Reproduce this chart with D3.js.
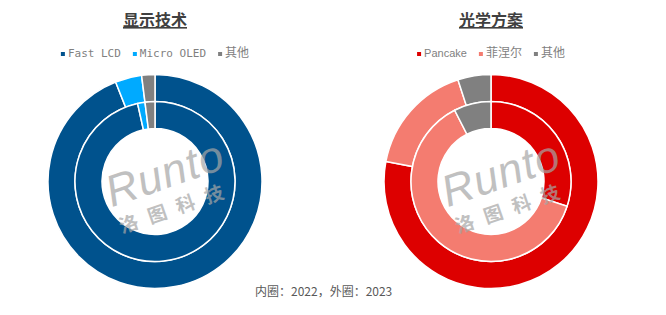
<!DOCTYPE html>
<html>
<head>
<meta charset="utf-8">
<script src="https://cdn.jsdelivr.net/npm/d3@7"></script>
<style>
  body { margin: 0; background: #fff; }
  text { font-family: "Noto Sans CJK SC", "Liberation Sans", sans-serif; }
</style>
</head>
<body>
<svg></svg>
<script>
var width = 666;
var height = 315;

// 显示技术
var displayCats = ["Fast LCD", "Micro OLED", "其他"];
var display2022 = [96.5, 1.5, 2];   // inner ring
var display2023 = [94, 4, 2];       // outer ring
var displayColors = ["#00528d", "#00aaff", "#808080"];

// 光学方案
var opticsCats = ["Pancake", "菲涅尔", "其他"];
var optics2022 = [30, 62.5, 7.5];
var optics2023 = [78, 17, 5];
var opticsColors = ["#dd0000", "#f47c70", "#808080"];

var svg = d3.select("svg")
    .attr("width", width)
    .attr("height", height);

var pie = d3.pie().sort(null).value(function(d) { return d; });

var rHole = 53, rMid = 80, rOut = 107;
var innerArc = d3.arc().innerRadius(rHole).outerRadius(rMid);
var outerArc = d3.arc().innerRadius(rMid).outerRadius(rOut);

function drawChart(cx, title, cats, inner, outer, colors, legendFont) {
  var cy = 181.5;
  var g = svg.append("g").attr("transform", "translate(" + cx + "," + cy + ")");

  g.selectAll("path.outer")
    .data(pie(outer))
    .enter().append("path")
      .attr("class", "outer")
      .attr("d", outerArc)
      .attr("fill", function(d, i) { return colors[i]; })
      .attr("stroke", "#fff")
      .attr("stroke-width", 1.5);

  g.selectAll("path.inner")
    .data(pie(inner))
    .enter().append("path")
      .attr("class", "inner")
      .attr("d", innerArc)
      .attr("fill", function(d, i) { return colors[i]; })
      .attr("stroke", "#fff")
      .attr("stroke-width", 1.5);

  // watermark
  var wm = g.append("g")
      .attr("transform", "translate(14,4) rotate(-19)")
      .attr("fill", "#a6a6a6")
      .attr("opacity", 0.7);
  wm.append("text")
      .attr("x", 0).attr("y", 2)
      .attr("text-anchor", "middle")
      .style("font-family", "'Liberation Sans', sans-serif")
      .style("font-style", "italic")
      .style("font-size", "44px")
      .style("letter-spacing", "1px")
      .text("Runto");
  wm.append("text")
      .attr("x", 0).attr("y", 30)
      .attr("text-anchor", "middle")
      .style("font-size", "19px")
      .style("font-weight", "bold")
      .style("letter-spacing", "11px")
      .text("洛图科技");

  // title
  svg.append("text")
      .attr("x", cx).attr("y", 26)
      .attr("text-anchor", "middle")
      .attr("fill", "#404040")
      .style("font-size", "16px")
      .style("font-weight", "bold")
      .style("text-decoration", "underline")
      .text(title);

  // legend
  var lg = svg.append("g").attr("transform", "translate(0,57)");
  var items = lg.selectAll("g")
    .data(cats)
    .enter().append("g");
  items.append("rect")
      .attr("width", 4).attr("height", 4)
      .attr("y", -5)
      .attr("fill", function(d, i) { return colors[i]; });
  items.append("text")
      .attr("x", 7)
      .attr("fill", "#7f7f7f")
      .style("font-family", legendFont)
      .style("font-size", function(d) { return /[\u4e00-\u9fff]/.test(d) ? "12px" : "11px"; })
      .text(function(d) { return d; });

  var widths = [];
  items.each(function() { widths.push(this.getBBox().width); });
  var gap = 12;
  var total = d3.sum(widths) + gap * (widths.length - 1);
  var x = cx - total / 2;
  items.attr("transform", function(d, i) {
    var t = "translate(" + x + ",0)";
    x += widths[i] + gap;
    return t;
  });
}

drawChart(155, "显示技术", displayCats, display2022, display2023, displayColors,
  "'DejaVu Sans Mono', 'Noto Sans CJK SC', monospace");
drawChart(491, "光学方案", opticsCats, optics2022, optics2023, opticsColors,
  "'Liberation Sans', 'Noto Sans CJK SC', sans-serif");

svg.append("text")
    .attr("x", 255).attr("y", 296)
    .attr("fill", "#595959")
    .style("font-size", "12px")
    .text("内圈：2022，外圈：2023");
</script>
</body>
</html>
